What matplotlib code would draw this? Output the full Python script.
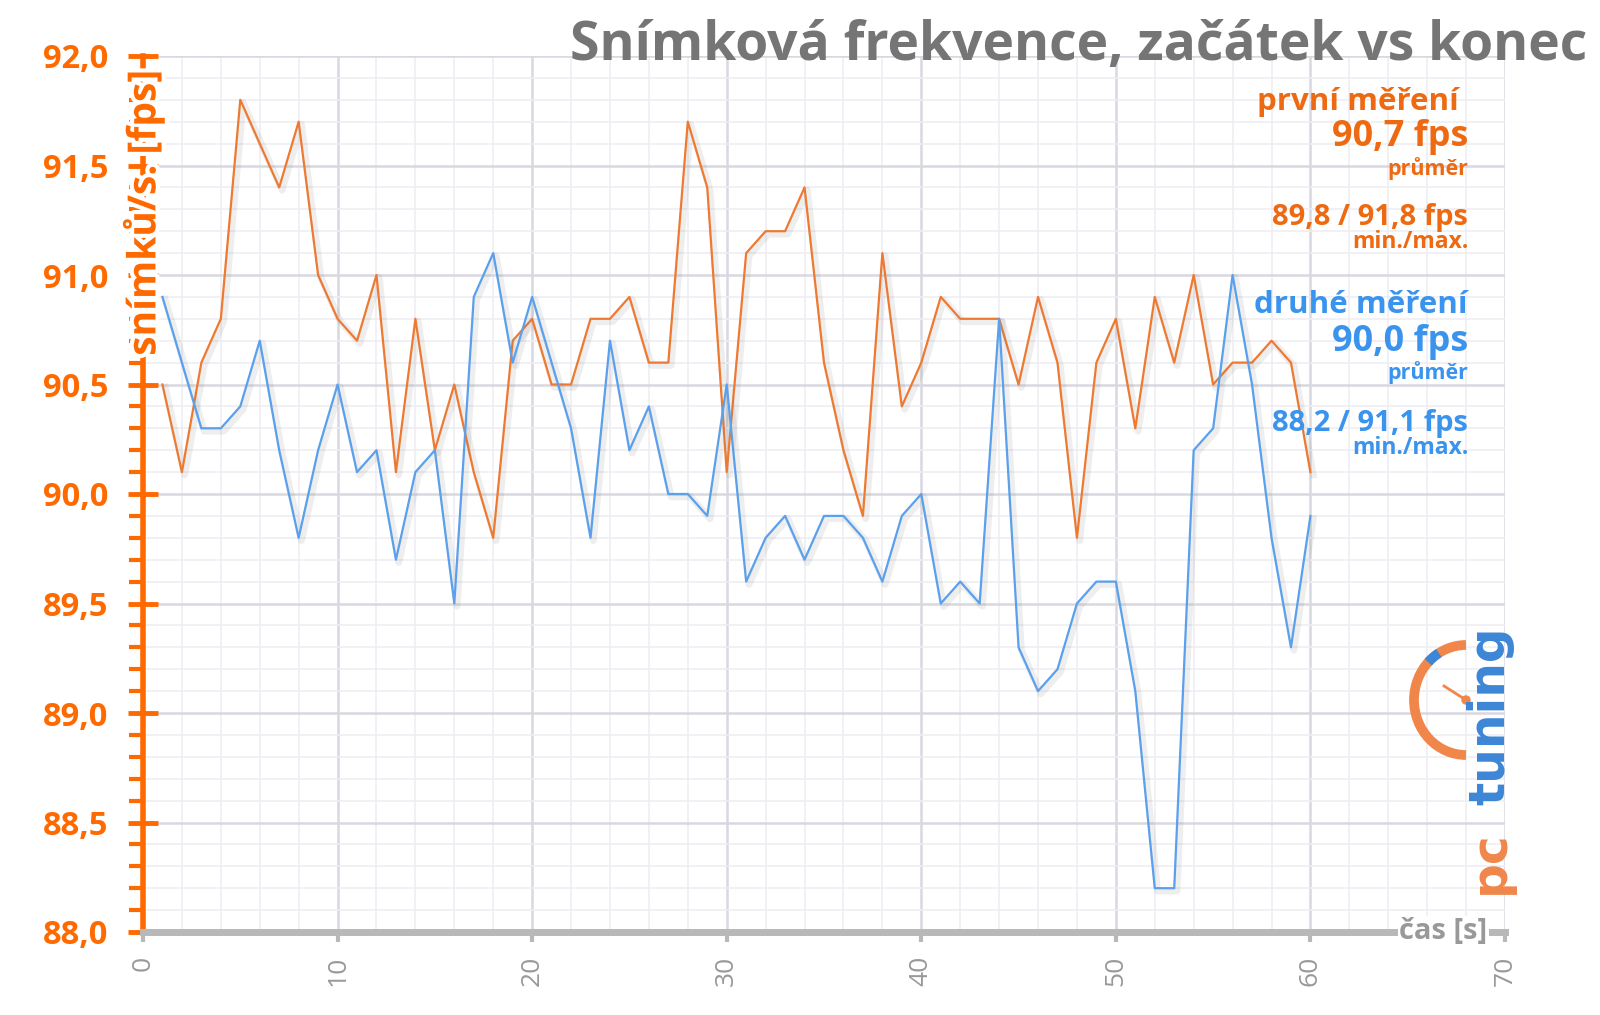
import matplotlib
matplotlib.use("Agg")
import matplotlib.pyplot as plt
import matplotlib.patheffects as pe
from matplotlib.patches import Arc, Circle
from matplotlib.ticker import MultipleLocator, FuncFormatter

plt.rcParams['font.family'] = ['Open Sans', 'DejaVu Sans']

# time in seconds
seconds = list(range(1, 61))

# first measurement (orange)
prvni = [90.5, 90.1, 90.6, 90.8, 91.8, 91.6, 91.4, 91.7, 91.0, 90.8,
         90.7, 91.0, 90.1, 90.8, 90.2, 90.5, 90.1, 89.8, 90.7, 90.8,
         90.5, 90.5, 90.8, 90.8, 90.9, 90.6, 90.6, 91.7, 91.4, 90.1,
         91.1, 91.2, 91.2, 91.4, 90.6, 90.2, 89.9, 91.1, 90.4, 90.6,
         90.9, 90.8, 90.8, 90.8, 90.5, 90.9, 90.6, 89.8, 90.6, 90.8,
         90.3, 90.9, 90.6, 91.0, 90.5, 90.6, 90.6, 90.7, 90.6, 90.1]

# second measurement (blue)
druhe = [90.9, 90.6, 90.3, 90.3, 90.4, 90.7, 90.2, 89.8, 90.2, 90.5,
         90.1, 90.2, 89.7, 90.1, 90.2, 89.5, 90.9, 91.1, 90.6, 90.9,
         90.6, 90.3, 89.8, 90.7, 90.2, 90.4, 90.0, 90.0, 89.9, 90.5,
         89.6, 89.8, 89.9, 89.7, 89.9, 89.9, 89.8, 89.6, 89.9, 90.0,
         89.5, 89.6, 89.5, 90.8, 89.3, 89.1, 89.2, 89.5, 89.6, 89.6,
         89.1, 88.2, 88.2, 90.2, 90.3, 91.0, 90.5, 89.8, 89.3, 89.9]

ORANGE = '#ff6a00'
ORANGE_TXT = '#ee6a12'
ORANGE_LINE = '#ee7a32'
BLUE_TXT = '#3a94ee'
BLUE_LINE = '#5aa0ec'
GRAY = '#999999'

W, H = 1600, 1015
fig = plt.figure(figsize=(W / 100, H / 100), dpi=100)
ax = fig.add_axes([143 / W, 83 / H, 1362 / W, 876 / H])

shadow = lambda: [pe.SimpleLineShadow(offset=(2, -2), shadow_color='#777777', alpha=0.12, linewidth=5),
                  pe.Normal()]
ax.plot(seconds, prvni, color=ORANGE_LINE, lw=1.6, path_effects=shadow(), zorder=3)
ax.plot(seconds, druhe, color=BLUE_LINE, lw=1.6, path_effects=shadow(), zorder=3)

ax.set_xlim(0, 70)
ax.set_ylim(88, 92)
ax.xaxis.set_major_locator(MultipleLocator(10))
ax.xaxis.set_minor_locator(MultipleLocator(2))
ax.yaxis.set_major_locator(MultipleLocator(0.5))
ax.yaxis.set_minor_locator(MultipleLocator(0.1))
ax.yaxis.set_major_formatter(FuncFormatter(lambda v, _: f"{v:.1f}".replace('.', ',')))

ax.grid(which='major', color='#d8d8e0', lw=1.8)
ax.grid(which='minor', color='#ededf3', lw=1.2)
ax.set_axisbelow(True)

for s in ['top', 'right']:
    ax.spines[s].set_visible(False)
ax.spines['left'].set_color(ORANGE)
ax.spines['left'].set_linewidth(4)
ax.spines['bottom'].set_color('#b8b8b8')
ax.spines['bottom'].set_linewidth(5)

ax.tick_params(axis='y', which='major', direction='inout', length=22, width=3.5,
               color=ORANGE, labelcolor=ORANGE, labelsize=23.5, pad=14)
ax.tick_params(axis='y', which='minor', direction='out', length=10, width=3, color=ORANGE)
ax.tick_params(axis='x', which='major', direction='out', length=7, width=3,
               color='#b8b8b8', labelcolor=GRAY, labelsize=19, labelrotation=90, pad=10)
ax.tick_params(axis='x', which='minor', length=0)
for lab in ax.get_yticklabels():
    lab.set_fontweight('bold')

# axis titles
ax.text(0, 1 - 14 / 876, 'snímků/s. [fps]', transform=ax.transAxes, rotation=90,
        ha='center', va='top', color=ORANGE, fontsize=28, fontweight='bold',
        path_effects=[pe.withStroke(linewidth=6, foreground='white')], zorder=5)
ax.text(69.1, 88, 'čas [s]', ha='right', va='center', color=GRAY, fontsize=21,
        fontweight='bold', clip_on=False, zorder=5,
        bbox=dict(facecolor='white', edgecolor='none', pad=1))

# title
fig.text(1587 / W, 1 - 46 / H, 'Snímková frekvence, začátek vs konec', ha='right', va='center',
         color='#757575', fontsize=38.5, fontweight='bold')

# summary texts
def note(y, txt, color, size, x=1468):
    fig.text(x / W, 1 - y / H, txt, ha='right', va='center', color=color,
             fontsize=size, fontweight='bold')

note(102, 'první měření', ORANGE_TXT, 22.5, x=1459)
note(137, '90,7 fps', ORANGE_TXT, 26)
note(169, 'průměr', ORANGE_TXT, 15.5)
note(217, '89,8 / 91,8 fps', ORANGE_TXT, 21)
note(242, 'min./max.', ORANGE_TXT, 16.5)
note(305, 'druhé měření', BLUE_TXT, 22.5)
note(342, '90,0 fps', BLUE_TXT, 26)
note(373, 'průměr', BLUE_TXT, 15.5)
note(423, '88,2 / 91,1 fps', BLUE_TXT, 21)
note(448, 'min./max.', BLUE_TXT, 16.5)

# pctuning logo
lx, ly, lw_, lh = 1400, 100, 120, 320
lax = fig.add_axes([lx / W, ly / H, lw_ / W, lh / H])
lax.set_xlim(lx, lx + lw_)
lax.set_ylim(ly, ly + lh)
lax.axis('off')
cx, cy = 1466, H - 700
lax.add_patch(Arc((cx, cy), 104, 110, theta1=90, theta2=270, color='#f0864a', lw=7))
lax.add_patch(Arc((cx, cy), 104, 110, theta1=120, theta2=135, color='#3d86d6', lw=7))
lax.plot([1444, cx], [H - 686, cy], color='#f0864a', lw=2)
lax.add_patch(Circle((cx, cy), 4, color='#f0864a'))
lax.text(1490, H - 716, 'tuning', rotation=90, ha='center', va='center',
         color='#3d86d6', fontsize=35, fontweight='bold', family='DejaVu Sans')
lax.text(1490, H - 862, 'pc', rotation=90, ha='center', va='center',
         color='#f0864a', fontsize=35, fontweight='bold', family='DejaVu Sans')

fig.savefig('out.png', dpi=100, facecolor='white')
